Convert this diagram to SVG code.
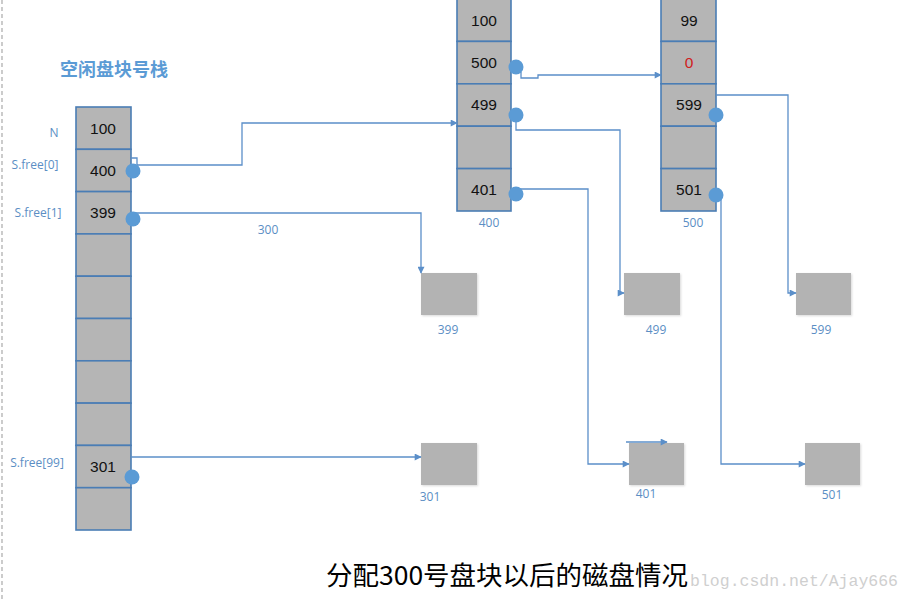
<svg xmlns="http://www.w3.org/2000/svg" width="910" height="602" viewBox="0 0 910 602">
<style>
.cell{fill:#b5b5b5;stroke:#4a7db5;stroke-width:1.6}
.blk{fill:#b3b3b3}
.num{font-family:"Liberation Sans","Open Sans",sans-serif;font-size:15.5px;fill:#111;text-anchor:middle}
.lbl{font-family:"Open Sans","Liberation Sans",sans-serif;font-size:12px;fill:#5b8ec4;text-anchor:middle}
.dot{fill:#5b9bd5}
.ln{fill:none;stroke:#5b8fc9;stroke-width:1.3}
.arr{marker-end:url(#ah)}
</style>
<defs>
<marker id="ah" viewBox="0 0 10 10" refX="9" refY="5" markerWidth="8" markerHeight="7" markerUnits="userSpaceOnUse" orient="auto">
<path d="M0,0 L10,5 L0,10 z" fill="#5b8fc9"/>
</marker>
<filter id="sh" x="-10%" y="-10%" width="130%" height="130%">
<feDropShadow dx="1" dy="1" stdDeviation="0.8" flood-color="#000" flood-opacity="0.15"/>
</filter>
</defs>
<rect width="910" height="602" fill="#fff"/>
<line x1="2" y1="0" x2="2" y2="602" stroke="#aaa" stroke-width="1.2" stroke-dasharray="4,3"/>

<g id="stack">
<text x="114" y="76" font-family="'Noto Sans CJK SC',sans-serif" font-size="18" font-weight="bold" fill="#5b9bd5" text-anchor="middle">空闲盘块号栈</text>
<rect class="cell" x="76" y="107" width="55" height="42.3"/>
<rect class="cell" x="76" y="149.3" width="55" height="42.3"/>
<rect class="cell" x="76" y="191.6" width="55" height="42.3"/>
<rect class="cell" x="76" y="233.9" width="55" height="42.3"/>
<rect class="cell" x="76" y="276.2" width="55" height="42.3"/>
<rect class="cell" x="76" y="318.5" width="55" height="42.3"/>
<rect class="cell" x="76" y="360.8" width="55" height="42.3"/>
<rect class="cell" x="76" y="403.1" width="55" height="42.3"/>
<rect class="cell" x="76" y="445.4" width="55" height="42.3"/>
<rect class="cell" x="76" y="487.7" width="55" height="42.3"/>
<text class="num" x="103" y="134">100</text>
<text class="num" x="103" y="176">400</text>
<text class="num" x="103" y="218">399</text>
<text class="num" x="103" y="472">301</text>
<text class="lbl" x="54" y="137">N</text>
<text class="lbl" x="35" y="169">S.free[0]</text>
<text class="lbl" x="38" y="217">S.free[1]</text>
<text class="lbl" x="37" y="467">S.free[99]</text>
</g>

<g id="block400">
<rect class="cell" x="457" y="-1" width="54" height="42.4"/>
<rect class="cell" x="457" y="41.4" width="54" height="42.4"/>
<rect class="cell" x="457" y="83.8" width="54" height="42.4"/>
<rect class="cell" x="457" y="126.2" width="54" height="42.4"/>
<rect class="cell" x="457" y="168.6" width="54" height="42.4"/>
<text class="num" x="484" y="26">100</text>
<text class="num" x="484" y="68">500</text>
<text class="num" x="484" y="110">499</text>
<text class="num" x="484" y="195">401</text>
<text class="lbl" x="489" y="227">400</text>
</g>

<g id="block500">
<rect class="cell" x="661" y="-1" width="55" height="42.4"/>
<rect class="cell" x="661" y="41.4" width="55" height="42.4"/>
<rect class="cell" x="661" y="83.8" width="55" height="42.4"/>
<rect class="cell" x="661" y="126.2" width="55" height="42.4"/>
<rect class="cell" x="661" y="168.6" width="55" height="42.4"/>
<text class="num" x="689" y="26">99</text>
<text class="num" x="689" y="68" style="fill:#d02020">0</text>
<text class="num" x="689" y="110">599</text>
<text class="num" x="689" y="195">501</text>
<text class="lbl" x="693" y="227">500</text>
</g>

<g id="disk399"><rect class="blk" filter="url(#sh)" x="421" y="273" width="56" height="42"/><text class="lbl" x="448" y="334">399</text></g>
<g id="disk499"><rect class="blk" filter="url(#sh)" x="624" y="273" width="56" height="42"/><text class="lbl" x="656" y="334">499</text></g>
<g id="disk599"><rect class="blk" filter="url(#sh)" x="796" y="273" width="55" height="42"/><text class="lbl" x="821" y="334">599</text></g>
<g id="disk301"><rect class="blk" filter="url(#sh)" x="421" y="443" width="56" height="42"/><text class="lbl" x="430" y="501">301</text></g>
<g id="disk401"><rect class="blk" filter="url(#sh)" x="629" y="443" width="55" height="42"/><text class="lbl" x="646" y="498">401</text></g>
<g id="disk501"><rect class="blk" filter="url(#sh)" x="805" y="443" width="55" height="42"/><text class="lbl" x="832" y="499">501</text></g>

<g id="connectors">
<path class="ln" d="M131,158 H137 V165"/>
<path class="ln arr" d="M137,165 H242 V123 H457"/>
<path class="ln arr" d="M131,213 H421 V273"/>
<path class="ln arr" d="M131,457 H421"/>
<path class="ln arr" d="M521,72 V78 H538 V75 H661"/>
<path class="ln arr" d="M516,122 V130 H620 V293 H624"/>
<path class="ln arr" d="M516,189 H588 V464 H629"/>
<path class="ln arr" d="M626,442 H667"/>
<path class="ln arr" d="M716,95 H788 V293 H796"/>
<path class="ln arr" d="M721,195 V464 H805"/>
<text class="lbl" x="268" y="234">300</text>
<circle class="dot" cx="133" cy="171" r="7.5"/>
<circle class="dot" cx="133" cy="219" r="7.5"/>
<circle class="dot" cx="132" cy="477" r="7.5"/>
<circle class="dot" cx="516" cy="67" r="7.5"/>
<circle class="dot" cx="516" cy="115" r="7.5"/>
<circle class="dot" cx="516" cy="194" r="7.5"/>
<circle class="dot" cx="716" cy="115" r="7.5"/>
<circle class="dot" cx="716" cy="195" r="7.5"/>
</g>

<text x="898" y="586" font-family="'Liberation Mono',monospace" font-size="16.5" fill="#cfcfcf" text-anchor="end">blog.csdn.net/Ajay666</text>
<text x="326" y="585" font-family="'Noto Sans CJK SC',sans-serif" font-size="26" fill="#000" textLength="362" lengthAdjust="spacingAndGlyphs">分配300号盘块以后的磁盘情况</text>
</svg>
